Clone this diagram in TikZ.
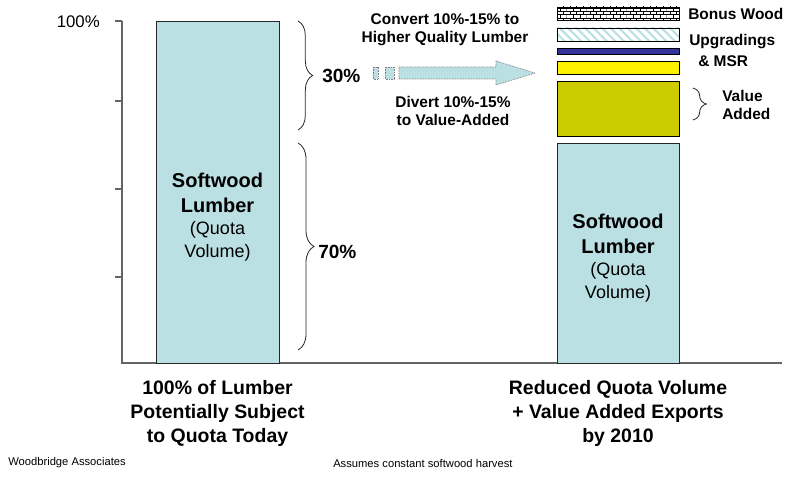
\documentclass[tikz,border=0pt]{standalone}
\usepackage{fontspec}
\setmainfont{Liberation Sans}
\usetikzlibrary{decorations.pathreplacing,patterns,patterns.meta}

\definecolor{quotablue}{RGB}{187,224,227}
\definecolor{upgradeblue}{RGB}{51,51,153}
\definecolor{valueolive}{RGB}{204,204,0}
\definecolor{axisgray}{RGB}{100,100,100}

% small brick texture for the bonus wood layer
\pgfdeclarepatternformonly{smallbricks}{\pgfpoint{-0.1pt}{-0.1pt}}{\pgfpoint{5.1pt}{5.1pt}}{\pgfpoint{5pt}{5pt}}{
  \pgfsetlinewidth{0.4pt}
  \pgfpathmoveto{\pgfpoint{0pt}{0pt}}\pgfpathlineto{\pgfpoint{5pt}{0pt}}
  \pgfpathmoveto{\pgfpoint{0pt}{2.5pt}}\pgfpathlineto{\pgfpoint{5pt}{2.5pt}}
  \pgfpathmoveto{\pgfpoint{0pt}{0pt}}\pgfpathlineto{\pgfpoint{0pt}{2.5pt}}
  \pgfpathmoveto{\pgfpoint{2.5pt}{2.5pt}}\pgfpathlineto{\pgfpoint{2.5pt}{5pt}}
  \pgfusepath{stroke}}

\begin{document}
\begin{tikzpicture}[
  x=0.75pt,y=-0.75pt,
  bar/.style={draw=black!85,line width=0.6pt,fill=quotablue},
  layer/.style={draw=black,line width=0.6pt},
  axis/.style={draw=axisgray,line width=1pt},
  caption/.style={inner sep=0pt,align=center,
                  font=\fontsize{14.6}{18}\selectfont\bfseries},
  bartext/.style={inner sep=0pt,align=center,
                  font=\fontsize{13.5}{17}\selectfont},
  tag/.style={inner sep=0pt,font=\fontsize{11.6}{13.5}\selectfont\bfseries},
  share/.style={inner sep=0pt,anchor=west,
                font=\fontsize{14.3}{17}\selectfont\bfseries},
  footnote/.style={inner sep=0pt,anchor=west,font=\fontsize{8.4}{10}\selectfont},
  curly/.style={decorate,draw=black!85,line width=0.6pt,
                decoration={brace,amplitude=#1}}
]
\useasboundingbox (0,0) rectangle (785,478);

% axis
\coordinate (top) at (122,21);
\coordinate (origin) at (122,363);
\coordinate (right) at (782,363);
\draw[axis] (top) -- (origin) -- (right);
\foreach \ty in {21,101,189,277}
  \draw[axis] (115,\ty) -- (122,\ty);
\node[inner sep=0pt,anchor=east,font=\fontsize{12.6}{15}\selectfont]
  (full) at (100,22) {100\%};

% today
\draw[bar] (156,21) rectangle (279,363);
\node[bartext] (todaytext) at (217.5,217)
  {{\fontsize{15}{18}\selectfont\bfseries Softwood}\\[1.5pt]
   {\fontsize{15}{18}\selectfont\bfseries Lumber}\\(Quota\\Volume)};
\draw[curly=11pt] (298,21) -- (298,130);
\draw[curly=12pt] (298,143) -- (298,350);
\node[share] (thirty) at (322,76) {30\%};
\node[share] (seventy) at (318,252) {70\%};

% shift arrow
\draw[draw=gray,dash pattern=on 0.6pt off 0.6pt,fill=quotablue,line width=0.5pt]
  (373,67) rectangle (378,79);
\draw[draw=gray,dash pattern=on 0.6pt off 0.6pt,fill=quotablue,line width=0.5pt]
  (385,67) rectangle (394,79);
\draw[draw=gray,dash pattern=on 0.6pt off 0.6pt,fill=quotablue,line width=0.5pt]
  (399,67) -- (496,67) -- (496,61) -- (535,73) -- (496,85) -- (496,79)
  -- (399,79) -- cycle;
\node[tag,align=center] (convert) at (445,30)
  {Convert 10\%-15\% to\\Higher Quality Lumber};
\node[tag,align=center] (divert) at (453,111)
  {Divert 10\%-15\%\\to Value-Added};

% 2010
\draw[layer,pattern=smallbricks] (557,7) rectangle (679,20);
\draw[layer,pattern={Lines[angle=-45,distance=4.5pt,line width=1.6pt]},
  pattern color=quotablue] (557,28) rectangle (679,41);
\draw[layer,fill=upgradeblue] (557,48) rectangle (679,54);
\draw[layer,fill=yellow] (557,61) rectangle (679,74);
\draw[layer,fill=valueolive] (557,81) rectangle (679,136);
\draw[bar] (557,143) rectangle (679,363);
\node[bartext] (futuretext) at (618,258)
  {{\fontsize{15}{18}\selectfont\bfseries Softwood}\\[1.5pt]
   {\fontsize{15}{18}\selectfont\bfseries Lumber}\\(Quota\\Volume)};
\node[tag,anchor=west] (bonus) at (688,14) {Bonus Wood};
\node[tag,anchor=west] (upgr) at (689,42) {Upgradings};
\node[tag,anchor=west] (msr) at (698,61) {\& MSR};
\draw[curly=10pt] (693,88) -- (693,120);
\node[tag,anchor=west,align=left] (valueadded) at (722,104.5) {Value\\Added};

% captions
\node[caption] (todaycap) at (217.5,413)
  {100\% of Lumber\\Potentially Subject\\to Quota Today};
\node[caption] (futurecap) at (618,413)
  {Reduced Quota Volume\\+ Value Added Exports\\by 2010};
\node[footnote] (source) at (8,463) {Woodbridge Associates};
\node[footnote] (assume) at (333,463) {Assumes constant softwood harvest};
\end{tikzpicture}
\end{document}
